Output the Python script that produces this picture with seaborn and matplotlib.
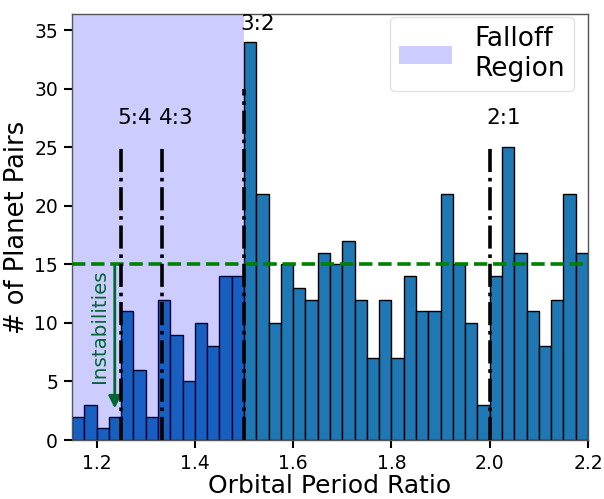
import numpy as np
import pandas as pd
import matplotlib
matplotlib.use("Agg")
import matplotlib.pyplot as plt
import seaborn as sns

# ---- data ----
bin_start = 1.15
bin_width = 0.025
counts = [2, 3, 1, 2, 11, 6, 2, 12, 9, 5, 10, 8, 14, 14,
          34, 21, 10, 15, 13, 12, 16, 15, 17, 12, 7, 12, 7, 14,
          11, 11, 21, 15, 10, 3,
          14, 25, 16, 11, 8, 12, 21, 16]
resonance_labels = ["5:4", "4:3", "3:2", "2:1"]
resonance_values = [5 / 4, 4 / 3, 3 / 2, 2 / 1]
resonance_line_tops = [25, 25, 30, 25]
resonance_label_y = [27, 27, 35, 27]
falloff_range = [1.15, 1.5]
instability_level = 15
xticks = [1.2, 1.4, 1.6, 1.8, 2.0, 2.2]
yticks = [0, 5, 10, 15, 20, 25, 30, 35]

edges = bin_start + bin_width * np.arange(len(counts) + 1)
centers = (edges[:-1] + edges[1:]) / 2
df = pd.DataFrame({"ratio": centers, "n": counts})

sns.set_theme(style="ticks")
plt.rcParams["font.family"] = ["DejaVu Sans"]
plt.rcParams["text.color"] = "black"
plt.rcParams["axes.labelcolor"] = "black"
plt.rcParams["xtick.color"] = "black"
plt.rcParams["ytick.color"] = "black"

fig = plt.figure(figsize=(6.04, 4.99), dpi=100)
ax = fig.add_axes([72 / 604, 59 / 499, 516 / 604, 426 / 499])

sns.histplot(data=df, x="ratio", weights="n", bins=len(counts),
             binrange=(edges[0], edges[-1]), ax=ax,
             color="#1f77b4", edgecolor="black", linewidth=1.0, alpha=1.0,
             zorder=1)

# instabilities arrow + text (beneath the shaded span)
ax.annotate("", xy=(1.237, 2.7), xytext=(1.237, instability_level),
            arrowprops=dict(arrowstyle="-|>", color="green", lw=2,
                            mutation_scale=18, shrinkA=0, shrinkB=0),
            zorder=1.5)
ax.text(1.206, 9.7, "Instabilities", rotation=90, color="green",
        fontsize=14.3, ha="center", va="center", zorder=1.5)

# falloff region
ax.axvspan(falloff_range[0], falloff_range[1], color="blue", alpha=0.2,
           lw=0, zorder=2, label="Falloff\nRegion")

# horizontal instability line
ax.axhline(instability_level, color="green", ls="--", lw=2.6, zorder=3)

# resonance lines
for lab, val, top, ly in zip(resonance_labels, resonance_values,
                             resonance_line_tops, resonance_label_y):
    ax.plot([val, val], [0, top], color="black", ls="-.", lw=2.6, zorder=3)
    ax.text(val + 0.028, ly, lab, ha="center", va="baseline",
            fontsize=15.5, color="black", zorder=4)

ax.set_xlim(1.15, 2.2)
ax.set_ylim(0, 36.4)
ax.set_xticks(xticks)
ax.set_xticklabels([f"{t:.1f}" for t in xticks])
ax.set_yticks(yticks)
ax.tick_params(axis="both", labelsize=13.5, length=6, width=1.5,
               color="black", labelcolor="black", pad=4)
ax.set_xlabel("Orbital Period Ratio", fontsize=18, labelpad=1)
ax.set_ylabel("# of Planet Pairs", fontsize=18.5, labelpad=3)
for s in ax.spines.values():
    s.set_visible(True)
    s.set_color("#555555")
    s.set_linewidth(1.0)

leg = ax.legend(loc="upper right", bbox_to_anchor=(0.973, 0.993),
                borderaxespad=0, fontsize=19, frameon=True,
                borderpad=0.35, handlelength=2.0, handletextpad=0.85,
                labelspacing=0.3)
leg.get_frame().set_edgecolor("#dddddd")

fig.savefig("out.png", dpi=100)
